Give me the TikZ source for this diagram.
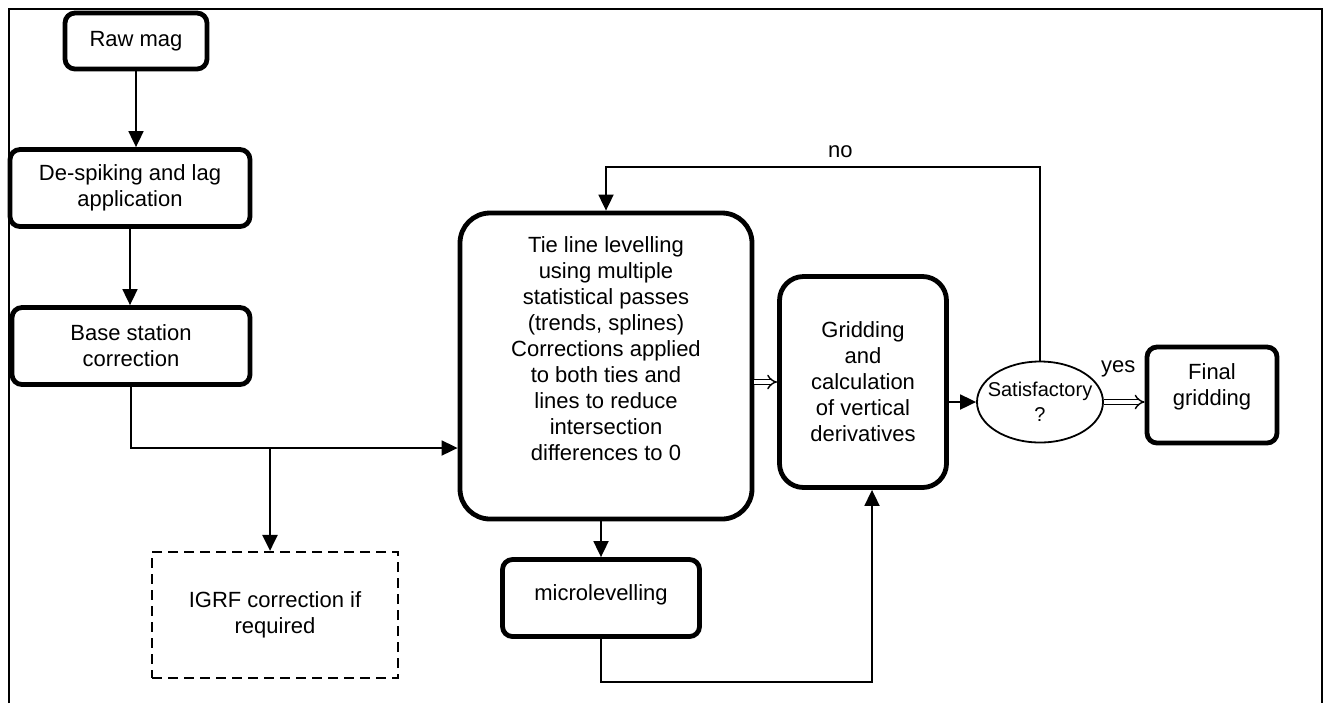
\documentclass[tikz,border=0pt]{standalone}
\usepackage{fontspec}
\setmainfont{Liberation Sans}
\usetikzlibrary{positioning,calc,arrows.meta,shapes.geometric}

\begin{document}
\begin{tikzpicture}[
    x=0.5pt, y=-0.5pt,
    every node/.style={font=\fontsize{11}{13}\selectfont, align=center},
    procbox/.style={draw, line width=2.4pt, rounded corners=5pt, inner sep=2pt},
    bigbox/.style={draw, line width=2.4pt, rounded corners=15pt, inner sep=2pt},
    dashbox/.style={draw, line width=1.1pt, dash pattern=on 5pt off 3pt},
    decision/.style={draw, ellipse, line width=0.9pt, inner xsep=-4pt, inner ysep=0pt,
        font=\fontsize{10}{12.5}\selectfont},
    arr/.style={line width=0.9pt, -{Triangle[length=8pt,width=7.5pt]}},
    dblarr/.style={double, double distance=1.8pt, line width=0.7pt, -{Implies}}
]
    \useasboundingbox (0,0) rectangle (1327,703);
    % Frame
    \draw[line width=1.1pt] (9,703) |- (1322,9) -- (1322,703);

    % Left column
    \node[procbox, minimum width=71pt, minimum height=28pt] (raw) at (136,41) {Raw mag};
    \node[procbox, minimum width=120pt, minimum height=38.5pt] (despike) at (130,188) {De-spiking and lag\\application};
    \node[procbox, minimum width=119pt, minimum height=38.5pt] (base) at (131,346) {Base station\\correction};
    \node[dashbox, minimum width=123pt, minimum height=63pt] (igrf) at (275,615) {IGRF correction if\\required};

    % Levelling
    \node[bigbox, minimum width=146pt, minimum height=153pt] (tie) at (606,366)
        {Tie line levelling\\using multiple\\statistical passes\\(trends, splines)\\Corrections applied\\to both ties and\\lines to reduce\\intersection\\differences to 0\\[4pt]\mbox{}};
    \node[procbox, minimum width=98.5pt, minimum height=38.5pt] (micro) at (601,598) {microlevelling\\[-8pt]\mbox{}};

    % Gridding and check
    \node[bigbox, rounded corners=12pt, minimum width=83.5pt, minimum height=105.5pt] (grid) at (863,382)
        {Gridding\\and\\calculation\\of vertical\\derivatives};
    \node[decision, minimum width=63pt, minimum height=40.5pt] (sat) at (1040,402) {Satisfactory\\?};
    \node[procbox, minimum width=65pt, minimum height=48pt] (final) at (1212,395) {Final\\gridding\\[-3pt]\mbox{}};

    \coordinate (junc) at (270,448);
    \coordinate (lowc) at (872,682);
    \coordinate (topc) at (1040,167);

    % Connectors
    \draw[arr] (raw.south) -- (raw.south |- despike.north);
    \draw[arr] (despike.south) -- (despike.south |- base.north);
    \draw[arr] (base.south) |- (junc) -- (junc -| tie.west);
    \draw[arr, line width=1.4pt] (junc) -- (junc |- igrf.north);
    \draw[arr] (micro.north |- tie.south) -- (micro.north);
    \draw[arr] (micro.south) |- (lowc) -- (lowc |- grid.south);
    \draw[dblarr] (tie.east |- grid.west) -- (grid.west);
    \draw[arr] (grid.east |- sat.west) -- (sat.west);
    \draw[dblarr] (sat.east) -- (sat.east -| final.west) node[midway, above=9pt, xshift=-3pt] {yes};
    \draw[arr] (sat.north) |- (tie.north |- topc) node[pos=0.73, above=1pt] {no} -- (tie.north);
\end{tikzpicture}
\end{document}
